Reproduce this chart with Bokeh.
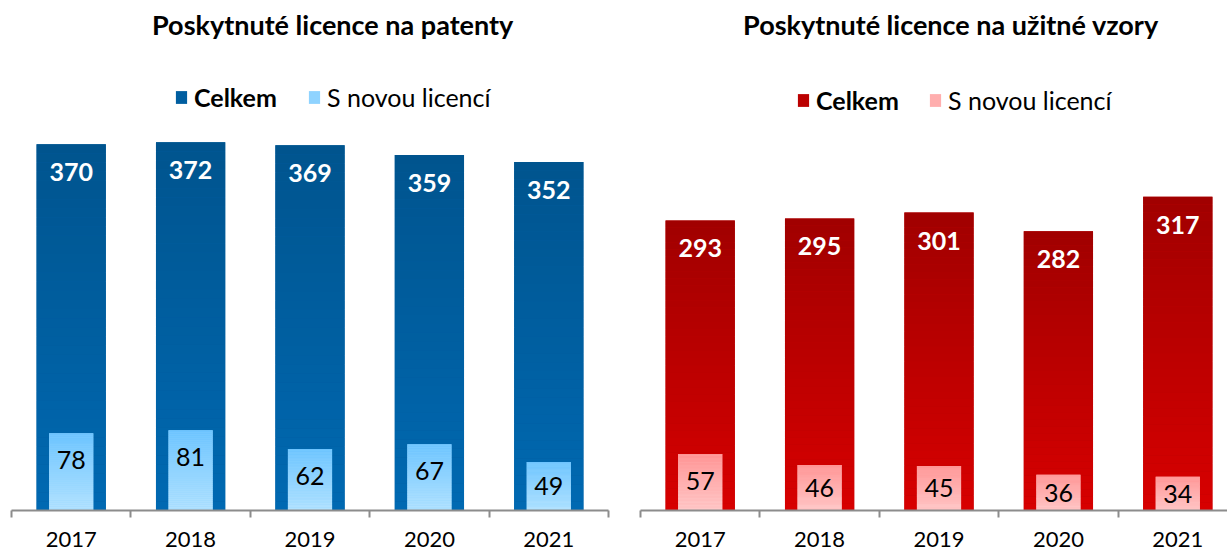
from bokeh.plotting import figure
from bokeh.models import ColumnDataSource, FixedTicker, Label, Legend, LegendItem, Range1d, LinearAxis
from bokeh.layouts import row
from bokeh.embed import file_html
from bokeh.resources import INLINE
from bokeh.core.properties import value

# ---- data ----
years = ["2017", "2018", "2019", "2020", "2021"]
patent_total = [370, 372, 369, 359, 352]
patent_new = [78, 81, 62, 67, 49]
model_total = [293, 295, 301, 282, 317]
model_new = [57, 46, 45, 36, 34]

titles = ["Poskytnuté licence na patenty", "Poskytnuté licence na užitné vzory"]
series_names = ["Celkem", "S novou licencí"]

FONT = "Lato"
N = 40
PX_PER_UNIT = 0.99
FIG_H = 551
BORDER_BOTTOM = 41
FRAME_H = FIG_H - BORDER_BOTTOM
Y_END = FRAME_H / PX_PER_UNIT
FRAME_BOTTOM_PAGE = FRAME_H
UNIT_PX = 119.4


def hex2rgb(h):
    h = h.lstrip("#")
    return tuple(int(h[i:i + 2], 16) for i in (0, 2, 4))


def lerp(c_bot, c_top, t):
    a, b = hex2rgb(c_bot), hex2rgb(c_top)
    return "#%02x%02x%02x" % tuple(int(round(a[j] + (b[j] - a[j]) * t)) for j in range(3))


def gradient_source(vals, width, top_col, bot_col):
    d = dict(left=[], right=[], top=[], bottom=[], color=[])
    for i, v in enumerate(vals):
        for k in range(1, N + 1):
            d["left"].append(i - width / 2)
            d["right"].append(i + width / 2)
            d["bottom"].append(v * (k - 1) / N)
            d["top"].append(v * k / N)
            d["color"].append(lerp(bot_col, top_col, (k - 0.5) / N))
    return ColumnDataSource(d)


def make_chart(title, total, new, dark, light, fig_w, bl, br, title_x, title_y, leg1, leg2):
    x_end = -0.5 + (fig_w - bl - br) / UNIT_PX
    p = figure(width=fig_w, height=FIG_H, x_range=Range1d(-0.5, x_end), y_range=Range1d(0, Y_END),
               output_backend="svg", toolbar_location=None, x_axis_type=None, y_axis_type=None,
               min_border_left=bl, min_border_right=br, min_border_top=0,
               min_border_bottom=BORDER_BOTTOM)
    p.outline_line_color = None
    p.background_fill_color = "white"
    p.border_fill_color = "white"

    xs = list(range(len(years)))
    # solid base under the gradient strips (hides seams)
    p.vbar(x=xs, top=total, width=0.58, bottom=0, fill_color=lerp(dark[1], dark[0], 0.5), line_color=None)
    r_dark = p.quad(left="left", right="right", top="top", bottom="bottom", fill_color="color",
                    line_color=None, source=gradient_source(total, 0.58, *dark))
    p.vbar(x=xs, top=new, width=0.37, bottom=0, fill_color=lerp(light[1], light[0], 0.5), line_color=None)
    r_light = p.quad(left="left", right="right", top="top", bottom="bottom", fill_color="color",
                     line_color=None, source=gradient_source(new, 0.37, *light))

    top_src = ColumnDataSource(dict(x=xs, y=[v - 28 / PX_PER_UNIT for v in total],
                                    t=[str(v) for v in total]))
    p.text(x="x", y="y", text="t", source=top_src, text_font=value(FONT),
           text_font_size=value("25px"), text_font_style="bold", text_color="white",
           text_align="center", text_baseline="middle")
    bot_src = ColumnDataSource(dict(x=xs, y=[max(v - 27 / PX_PER_UNIT, v / 2) for v in new],
                                    t=[str(v) for v in new]))
    p.text(x="x", y="y", text="t", source=bot_src, text_font=value(FONT),
           text_font_size=value("25px"), text_color="black",
           text_align="center", text_baseline="middle")

    ax = LinearAxis(ticker=FixedTicker(ticks=xs, minor_ticks=[i - 0.5 for i in range(len(years) + 1)]),
                    major_label_overrides={i: y for i, y in enumerate(years)})
    ax.axis_line_color = "#8c8c8c"
    ax.axis_line_width = 2
    ax.major_tick_out = 0
    ax.major_tick_in = 0
    ax.minor_tick_out = 7
    ax.minor_tick_in = 0
    ax.minor_tick_line_color = "#8c8c8c"
    ax.minor_tick_line_width = 2
    ax.major_label_standoff = 14
    ax.major_label_text_font = FONT
    ax.major_label_text_font_size = "22px"
    ax.major_label_text_color = "black"
    p.add_layout(ax, "below")

    p.add_layout(Label(x=title_x, y=(FRAME_BOTTOM_PAGE - title_y) / PX_PER_UNIT, text=title,
                       text_font=FONT, text_font_size="27px",
                       text_font_style="bold", text_align="center", text_baseline="middle",
                       text_color="black"))

    for (lx, ly), name, rend, style in [(leg1, series_names[0], r_dark, "bold"),
                                         (leg2, series_names[1], r_light, "normal")]:
        lg = Legend(items=[LegendItem(label=name, renderers=[rend], index=N // 2)],
                    location=(lx, FRAME_BOTTOM_PAGE - ly - 15), orientation="horizontal",
                    border_line_color=None,
                    background_fill_alpha=0, padding=0, margin=0, glyph_width=14, glyph_height=16,
                    label_standoff=6, label_text_font=FONT, label_text_font_size="25px",
                    label_text_font_style=style, label_text_color="black")
        p.add_layout(lg, "center")
    return p


p1 = make_chart(titles[0], patent_total, patent_new,
                ("#00548e", "#0069b2"), ("#6cc4ff", "#b4e3ff"),
                624, 11, 16, 2.19, 24, (163, 97), (296, 97))
p2 = make_chart(titles[1], model_total, model_new,
                ("#a00000", "#d80000"), ("#ff9494", "#ffcaca"),
                603, 16, 0, 2.10, 24, (156, 100), (288, 100))

layout = row(p1, p2)
open("out.html", "w").write(file_html(layout, INLINE))
